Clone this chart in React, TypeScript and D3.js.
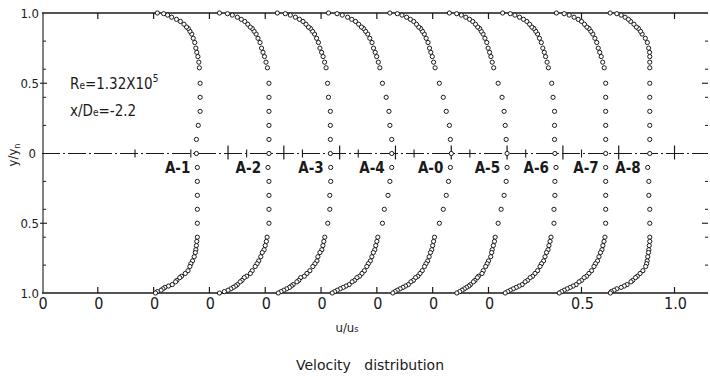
import React, { useEffect, useRef } from "react";
import * as d3 from "d3";

// profile names, left to right, and where each profile's u = 0 sits on the u/us axis
const profileNames = ["A-1", "A-2", "A-3", "A-4", "A-0", "A-5", "A-6", "A-7", "A-8"];
const profileOffsets = [0, 0.3, 0.6, 0.9, 1.2, 1.5, 1.8, 2.1, 2.4];

// y/yn stations, upper half (centre line -> upper wall)
const yUpper = [0, 0.1, 0.2, 0.3, 0.4, 0.5, 0.61, 0.65, 0.69, 0.72, 0.75, 0.79, 0.82, 0.85, 0.87, 0.89, 0.9, 0.92, 0.94, 0.955, 0.97, 0.985, 0.995, 1.0];
// y/yn stations, lower half (centre line -> lower wall)
const yLower = [0.1, 0.2, 0.3, 0.4, 0.5, 0.6, 0.63, 0.66, 0.69, 0.71, 0.74, 0.77, 0.79, 0.81, 0.84, 0.86, 0.88, 0.89, 0.91, 0.92, 0.94, 0.95, 0.96, 0.97, 0.98, 0.99, 1.0];

// u/us, upper half
const uUpperA1 = [0.83, 0.83, 0.84, 0.85, 0.85, 0.85, 0.846, 0.843, 0.838, 0.832, 0.827, 0.821, 0.813, 0.805, 0.795, 0.786, 0.777, 0.763, 0.744, 0.723, 0.697, 0.675, 0.654, 0.62];
const uUpperA2 = [0.92, 0.92, 0.92, 0.92, 0.92, 0.92, 0.912, 0.904, 0.896, 0.888, 0.88, 0.872, 0.861, 0.851, 0.84, 0.83, 0.819, 0.806, 0.79, 0.771, 0.75, 0.723, 0.697, 0.654];
const uUpperA3 = [0.95, 0.95, 0.95, 0.95, 0.94, 0.935, 0.927, 0.919, 0.911, 0.903, 0.894, 0.886, 0.876, 0.865, 0.854, 0.843, 0.832, 0.819, 0.803, 0.784, 0.762, 0.735, 0.708, 0.665];
const uUpperA4 = [0.98, 0.98, 0.97, 0.965, 0.95, 0.93, 0.916, 0.908, 0.899, 0.891, 0.882, 0.874, 0.862, 0.851, 0.839, 0.828, 0.817, 0.802, 0.785, 0.765, 0.743, 0.714, 0.686, 0.64];
const uUpperA0 = [1.0, 0.995, 0.99, 0.973, 0.957, 0.936, 0.913, 0.905, 0.898, 0.89, 0.883, 0.875, 0.865, 0.855, 0.845, 0.835, 0.825, 0.813, 0.798, 0.78, 0.76, 0.735, 0.71, 0.67];
const uUpperA5 = [1.0, 0.995, 0.99, 0.984, 0.973, 0.952, 0.928, 0.92, 0.913, 0.906, 0.898, 0.891, 0.881, 0.871, 0.861, 0.852, 0.842, 0.83, 0.815, 0.798, 0.778, 0.754, 0.729, 0.69];
const uUpperA6 = [0.957, 0.955, 0.955, 0.955, 0.947, 0.94, 0.922, 0.915, 0.907, 0.9, 0.892, 0.884, 0.874, 0.864, 0.854, 0.844, 0.833, 0.821, 0.806, 0.788, 0.767, 0.742, 0.717, 0.676];
const uUpperA7 = [0.93, 0.93, 0.93, 0.93, 0.93, 0.93, 0.922, 0.914, 0.906, 0.898, 0.89, 0.882, 0.872, 0.861, 0.85, 0.84, 0.829, 0.816, 0.8, 0.782, 0.76, 0.734, 0.707, 0.665];
const uUpperA8 = [0.867, 0.867, 0.867, 0.867, 0.867, 0.867, 0.867, 0.867, 0.867, 0.866, 0.861, 0.854, 0.843, 0.826, 0.817, 0.806, 0.795, 0.782, 0.764, 0.752, 0.734, 0.713, 0.69, 0.654];

// u/us, lower half
const uLowerA1 = [0.835, 0.835, 0.835, 0.835, 0.835, 0.835, 0.832, 0.83, 0.827, 0.824, 0.818, 0.809, 0.8, 0.795, 0.785, 0.77, 0.75, 0.74, 0.725, 0.718, 0.7, 0.68, 0.66, 0.65, 0.64, 0.62, 0.61];
const uLowerA2 = [0.915, 0.92, 0.92, 0.92, 0.92, 0.91, 0.906, 0.9, 0.894, 0.884, 0.876, 0.865, 0.856, 0.846, 0.83, 0.82, 0.8, 0.787, 0.775, 0.765, 0.75, 0.74, 0.728, 0.715, 0.7, 0.68, 0.654];
const uLowerA3 = [0.952, 0.952, 0.947, 0.947, 0.936, 0.92, 0.915, 0.91, 0.904, 0.894, 0.883, 0.878, 0.867, 0.856, 0.84, 0.824, 0.81, 0.79, 0.78, 0.77, 0.75, 0.74, 0.73, 0.715, 0.7, 0.685, 0.67];
const uLowerA4 = [0.98, 0.97, 0.96, 0.94, 0.93, 0.905, 0.9, 0.894, 0.889, 0.881, 0.873, 0.865, 0.854, 0.846, 0.833, 0.82, 0.807, 0.793, 0.78, 0.767, 0.751, 0.734, 0.719, 0.703, 0.687, 0.673, 0.66];
const uLowerA0 = [0.995, 0.985, 0.973, 0.957, 0.936, 0.91, 0.905, 0.9, 0.895, 0.888, 0.881, 0.873, 0.864, 0.856, 0.844, 0.832, 0.82, 0.808, 0.796, 0.783, 0.769, 0.754, 0.74, 0.725, 0.71, 0.698, 0.686];
const uLowerA5 = [1.0, 0.995, 0.984, 0.968, 0.952, 0.936, 0.932, 0.926, 0.92, 0.917, 0.912, 0.9, 0.893, 0.885, 0.872, 0.865, 0.846, 0.84, 0.827, 0.819, 0.803, 0.795, 0.782, 0.77, 0.758, 0.745, 0.73];
const uLowerA6 = [0.963, 0.957, 0.957, 0.952, 0.952, 0.936, 0.931, 0.925, 0.92, 0.912, 0.904, 0.896, 0.885, 0.877, 0.864, 0.85, 0.837, 0.824, 0.81, 0.797, 0.781, 0.765, 0.749, 0.733, 0.717, 0.703, 0.69];
const uLowerA7 = [0.93, 0.93, 0.93, 0.93, 0.93, 0.926, 0.921, 0.915, 0.91, 0.902, 0.894, 0.886, 0.875, 0.867, 0.854, 0.84, 0.827, 0.814, 0.8, 0.787, 0.771, 0.755, 0.739, 0.723, 0.707, 0.693, 0.68];
const uLowerA8 = [0.856, 0.862, 0.862, 0.867, 0.867, 0.867, 0.867, 0.864, 0.862, 0.86, 0.856, 0.853, 0.85, 0.845, 0.83, 0.815, 0.8, 0.79, 0.775, 0.766, 0.745, 0.73, 0.713, 0.69, 0.675, 0.66, 0.655];

const uUpper = [uUpperA1, uUpperA2, uUpperA3, uUpperA4, uUpperA0, uUpperA5, uUpperA6, uUpperA7, uUpperA8];
const uLower = [uLowerA1, uLowerA2, uLowerA3, uLowerA4, uLowerA0, uLowerA5, uLowerA6, uLowerA7, uLowerA8];

// x tick labels along the bottom
const xTickValues = [0, 0.3, 0.6, 0.9, 1.2, 1.5, 1.8, 2.1, 2.4, 2.9, 3.4];
const xTickLabels = ["0", "0", "0", "0", "0", "0", "0", "0", "0", "0.5", "1.0"];
// y ticks (each half)
const yMajorTicks = [0.5];
const yMinorTicks = [0.2, 0.4, 0.6, 0.8];
const yTickLabels = ["1.0", "0.5", "0", "0.5", "1.0"];

const FONT = "'DejaVu Sans Condensed', 'Liberation Sans Narrow', 'Liberation Sans', Arial, sans-serif";

function App() {
  const chartRef = useRef<SVGSVGElement | null>(null);

  useEffect(() => {
    drawChart();
  }, []);

  const drawChart = () => {
    const svg = d3.select(chartRef.current);
    svg.selectAll("*").remove();

    const left = 42, right = 708, top = 13, mid = 153.5, bottom = 293;
    const x = d3.scaleLinear().domain([0, 3.58]).range([left, right]);
    const yUp = d3.scaleLinear().domain([0, 1]).range([mid, top]);
    const yDn = d3.scaleLinear().domain([0, 1]).range([mid, bottom]);
    const ink = "#1a1a1a";

    const g = svg.append("g");

    // frame: top, bottom, left
    g.append("line").attr("x1", left).attr("x2", right).attr("y1", top).attr("y2", top)
      .attr("stroke", ink).attr("stroke-width", 1.4);
    g.append("line").attr("x1", left).attr("x2", right).attr("y1", bottom).attr("y2", bottom)
      .attr("stroke", ink).attr("stroke-width", 1.4);
    g.append("line").attr("x1", left + 1).attr("x2", left + 1).attr("y1", top).attr("y2", bottom)
      .attr("stroke", ink).attr("stroke-width", 1.1);

    // ticks on top/bottom
    xTickValues.forEach(v => {
      if (v === 0) return;
      g.append("line").attr("x1", x(v)).attr("x2", x(v)).attr("y1", top).attr("y2", top + 6)
        .attr("stroke", ink).attr("stroke-width", 1.2);
      g.append("line").attr("x1", x(v)).attr("x2", x(v)).attr("y1", bottom).attr("y2", bottom - 6)
        .attr("stroke", ink).attr("stroke-width", 1.2);
    });

    // y ticks, left and right, both halves
    [yUp, yDn].forEach(ys => {
      yMinorTicks.forEach(v => {
        g.append("line").attr("x1", left + 1).attr("x2", left + 4).attr("y1", ys(v)).attr("y2", ys(v))
          .attr("stroke", ink).attr("stroke-width", 1);
        g.append("line").attr("x1", right - 3).attr("x2", right).attr("y1", ys(v)).attr("y2", ys(v))
          .attr("stroke", ink).attr("stroke-width", 1);
      });
      yMajorTicks.forEach(v => {
        g.append("line").attr("x1", left - 2).attr("x2", left + 5).attr("y1", ys(v)).attr("y2", ys(v))
          .attr("stroke", ink).attr("stroke-width", 1.1);
        g.append("line").attr("x1", right - 6).attr("x2", right).attr("y1", ys(v)).attr("y2", ys(v))
          .attr("stroke", ink).attr("stroke-width", 1.1);
      });
    });

    // centre line (dash-dot) with the 0.5 and 1.0 marks of every profile
    g.append("line").attr("x1", left).attr("x2", right).attr("y1", mid).attr("y2", mid)
      .attr("stroke", ink).attr("stroke-width", 1).attr("stroke-dasharray", "18,3,2,3");
    profileOffsets.forEach(off => {
      g.append("line").attr("x1", x(off + 0.5)).attr("x2", x(off + 0.5)).attr("y1", mid - 4).attr("y2", mid + 4)
        .attr("stroke", ink).attr("stroke-width", 1.1);
      g.append("line").attr("x1", x(off + 1)).attr("x2", x(off + 1)).attr("y1", mid - 8).attr("y2", mid + 6)
        .attr("stroke", ink).attr("stroke-width", 1.2);
    });

    // y tick labels
    const yLabelPos = [yUp(1), yUp(0.5), mid, yDn(0.5), yDn(1)];
    yLabelPos.forEach((p, i) => {
      g.append("text").attr("x", i === 2 ? 36 : 39).attr("y", p).attr("dy", "0.36em")
        .attr("text-anchor", "end").style("font-family", FONT).style("font-size", "13px")
        .attr("fill", ink).text(yTickLabels[i]);
    });

    // y axis title
    const yTitle = g.append("text").attr("transform", "translate(17,155) rotate(-90)")
      .attr("text-anchor", "middle").style("font-family", FONT).style("font-size", "13px").attr("fill", ink);
    yTitle.append("tspan").text("y/y");
    yTitle.append("tspan").attr("dy", 3).style("font-size", "9px").text("n");

    // x tick labels
    xTickValues.forEach((v, i) => {
      g.append("text").attr("x", x(v) + 1).attr("y", 309).attr("text-anchor", "middle")
        .style("font-family", FONT).style("font-size", "16px").attr("fill", ink).text(xTickLabels[i]);
    });

    // x axis title
    const xTitle = g.append("text").attr("x", 347).attr("y", 332).attr("text-anchor", "middle")
      .style("font-family", FONT).style("font-size", "13px").attr("fill", ink);
    xTitle.append("tspan").text("u/u");
    xTitle.append("tspan").style("font-size", "9px").text("s");

    // run conditions
    const re = g.append("text").attr("x", 70).attr("y", 89).style("font-family", FONT)
      .style("font-size", "15px").attr("fill", ink);
    re.append("tspan").text("R");
    re.append("tspan").style("font-size", "10px").text("e");
    re.append("tspan").text("=1.32X10");
    re.append("tspan").attr("dy", -7).style("font-size", "10px").text("5");
    const xd = g.append("text").attr("x", 70).attr("y", 116).style("font-family", FONT)
      .style("font-size", "15px").attr("fill", ink);
    xd.append("tspan").text("x/D");
    xd.append("tspan").style("font-size", "10px").text("e");
    xd.append("tspan").text("=-2.2");

    // profiles
    profileNames.forEach((name, i) => {
      const off = profileOffsets[i];
      const pts: [number, number][] = [];
      yUpper.forEach((yv, j) => pts.push([x(off + uUpper[i][j]), yUp(yv)]));
      yLower.forEach((yv, j) => pts.push([x(off + uLower[i][j]), yDn(yv)]));
      g.selectAll(null).data(pts).enter().append("circle")
        .attr("cx", d => d[0]).attr("cy", d => d[1]).attr("r", 2.1)
        .attr("fill", "#fff").attr("stroke", ink).attr("stroke-width", 1);

      g.append("text").attr("x", x(off + uLower[i][0]) - 7).attr("y", 173)
        .attr("text-anchor", "end").style("font-family", FONT).style("font-size", "15px")
        .style("font-weight", "600").attr("fill", ink).text(name);
    });

    // caption
    g.append("text").attr("x", 370).attr("y", 370).attr("text-anchor", "middle")
      .style("font-family", "'DejaVu Sans', sans-serif").style("font-size", "14px")
      .style("white-space", "pre").attr("fill", ink).text("Velocity   distribution");
  };

  return (
    <div style={{ position: "absolute", left: 0, top: 0, background: "#fff" }}>
      <svg ref={chartRef} width={710} height={377} style={{ display: "block" }}></svg>
    </div>
  );
}

export default App;
